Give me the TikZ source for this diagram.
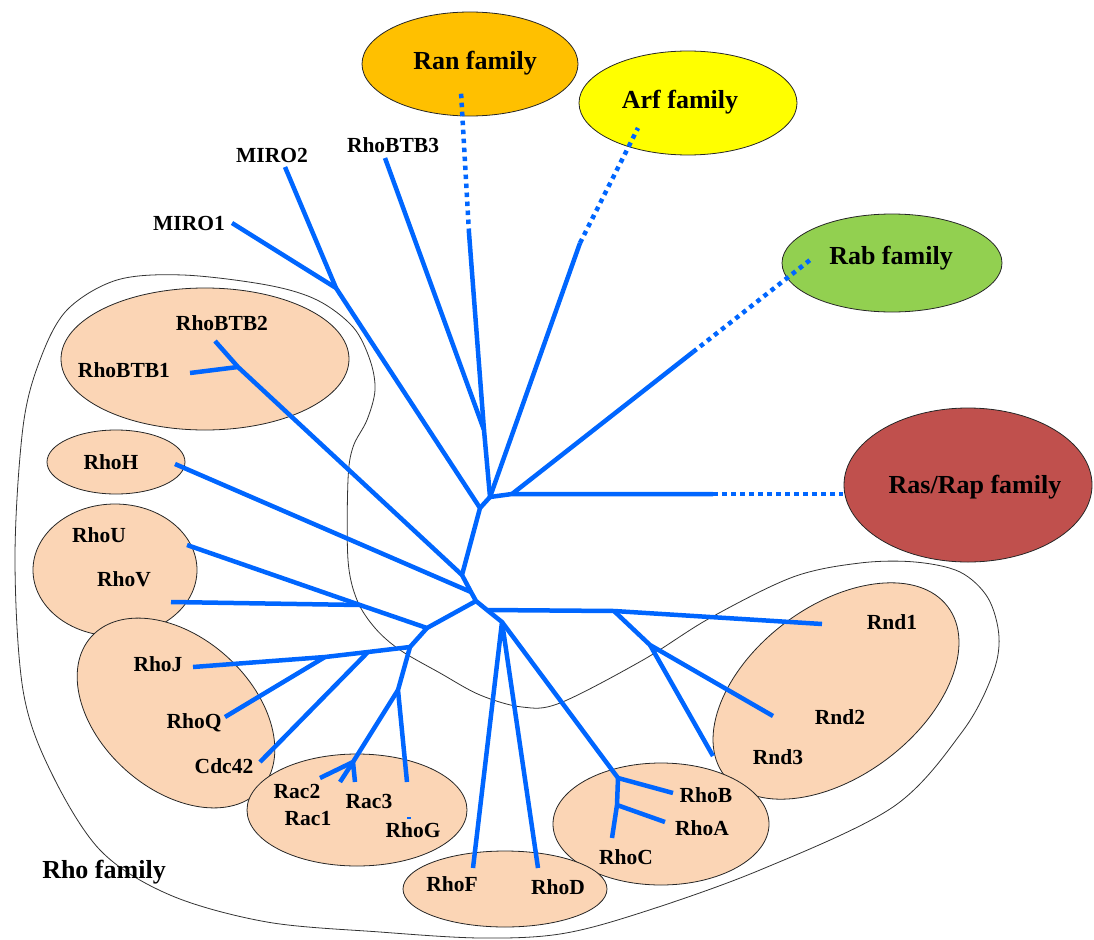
\documentclass[tikz,border=0pt]{standalone}
\usepackage{fontspec}
\setmainfont{Liberation Serif}
\definecolor{treeblue}{RGB}{0,102,255}
\definecolor{ranc}{RGB}{255,192,0}
\definecolor{arfc}{RGB}{255,255,0}
\definecolor{rabc}{RGB}{146,208,80}
\definecolor{rasc}{RGB}{192,80,77}
\definecolor{pinkc}{RGB}{251,213,181}
\begin{document}
\begin{tikzpicture}[x=1pt,y=-1pt,
  br/.style={draw=treeblue, line width=4.5pt, line join=round},
  dotbr/.style={draw=treeblue, line width=4.5pt, dash pattern=on 4.5pt off 4.5pt},
  lab/.style={font=\fontsize{21.5}{24}\selectfont\bfseries, inner sep=0pt, text height=14pt, text depth=0pt},
  fam/.style={font=\fontsize{26}{30}\selectfont\bfseries, inner sep=0pt, text height=17pt, text depth=0pt},
  famell/.style={draw=black!85, line width=0.8pt},
  pinkell/.style={draw=black!85, fill=pinkc, line width=0.8pt},
  outl/.style={draw=black!80, line width=0.8pt}]
\useasboundingbox (0,0) rectangle (1094,939);

% family ellipses
\draw[famell, fill=ranc] (470,64) ellipse [x radius=108pt, y radius=52pt];
\draw[famell, fill=arfc] (688,103) ellipse [x radius=109pt, y radius=52pt];
\draw[famell, fill=rabc] (892,263) ellipse [x radius=110pt, y radius=49pt];
\draw[famell, fill=rasc] (968,485) ellipse [x radius=124pt, y radius=77pt];

% Rho family outline
\draw[outl] plot[smooth cycle, tension=0.55] coordinates {
 (117,280) (183,275) (267,285) (317,300) (353,327) (370,360) (375,390) (367,420)
 (353,447) (348,480) (348,560) (357,600) (375,628) (400,650) (440,673) (480,695)
 (522,707) (560,703) (643,660) (710,618) (793,577) (860,563) (915,562) (960,572)
 (988,598) (999,637) (992,676) (962,732) (893,807) (760,870) (640,913) (560,934) (480,938)
 (380,932) (267,922) (170,895) (100,850) (50,770) (23,690) (15,558) (23,427)
 (40,360) (67,310)};

% pink ellipses
\draw[pinkell] (205,359) ellipse [x radius=144pt, y radius=71pt];
\draw[pinkell] (116,462) ellipse [x radius=69pt, y radius=32pt];
\draw[pinkell] (115,570) ellipse [x radius=82pt, y radius=66pt];
\draw[pinkell, rotate around={-42:(176,713)}] (176,713) ellipse [x radius=114pt, y radius=76pt];
\draw[pinkell] (357,810) ellipse [x radius=110pt, y radius=56pt];
\draw[pinkell, rotate around={37:(836,691)}] (836,691) ellipse [x radius=140pt, y radius=85pt];
\draw[pinkell] (661,824) ellipse [x radius=108pt, y radius=61pt];
\draw[pinkell] (505,889) ellipse [x radius=102pt, y radius=38pt];

% junction coordinates
\coordinate (R1) at (480,508);
\coordinate (Jarf) at (490,497);
\coordinate (Jtop) at (484,430);
\coordinate (Jras) at (512,494);
\coordinate (Jmiro) at (336,288);
\coordinate (R2) at (462,575);
\coordinate (Jh) at (471,592);
\coordinate (R3) at (476,601);
\coordinate (Jd) at (487,610);
\coordinate (R4) at (502,622);
\coordinate (Jbtb) at (238,367);
\coordinate (Juv) at (360,605);
\coordinate (R5) at (427,628);
\coordinate (Jr) at (410,647);
\coordinate (Jc) at (368,652);
\coordinate (Jq) at (325,657);
\coordinate (Jrac) at (398,690);
\coordinate (Jrac2) at (353,762);
\coordinate (Jrnd1) at (614,611);
\coordinate (Jrnd23) at (650,645);
\coordinate (Jbac) at (618,778);
\coordinate (Ja) at (617,805);
% end coordinates
\coordinate (eMIRO1) at (232,223);
\coordinate (eMIRO2) at (285,167);
\coordinate (eBTB3) at (385,158);
\coordinate (eRan) at (469,233);
\coordinate (dRan) at (461,92);
\coordinate (eArf) at (580,243);
\coordinate (dArf) at (638,128);
\coordinate (eRab) at (693,352);
\coordinate (dRab) at (810,260);
\coordinate (eRas) at (713,494);
\coordinate (dRas) at (843,494);
\coordinate (eBTB2) at (215,341);
\coordinate (eBTB1) at (190,373);
\coordinate (eH) at (175,464);
\coordinate (eU) at (187,545);
\coordinate (eV) at (171,602);
\coordinate (eJ) at (193,667);
\coordinate (eQ) at (225,717);
\coordinate (eCdc) at (260,762);
\coordinate (eRac2) at (320,778);
\coordinate (eRac1) at (340,782);
\coordinate (eRac3) at (355,782);
\coordinate (eG) at (407,782);
\coordinate (eF) at (473,868);
\coordinate (eD) at (538,868);
\coordinate (eB) at (673,793);
\coordinate (eA) at (665,822);
\coordinate (eC) at (612,838);
\coordinate (eRnd1) at (822,624);
\coordinate (eRnd2) at (773,716);
\coordinate (eRnd3) at (713,756);
\coordinate (gA) at (407,818);
\coordinate (gB) at (411,818);

% tree
\draw[br] (eMIRO1) -- (Jmiro) -- (R1) -- (R2) -- (Jh) -- (R3) -- (Jd) -- (R4) -- (Jbac) -- (Ja) -- (eC);
\draw[br] (eMIRO2) -- (Jmiro);
\draw[br] (eBTB3) -- (Jtop) -- (Jarf) -- (Jras) -- (eRas);
\draw[br] (eRan) -- (Jtop);
\draw[br] (eArf) -- (Jarf) -- (R1);
\draw[br] (eRab) -- (Jras);
\draw[br] (eBTB2) -- (Jbtb) -- (R2);
\draw[br] (eBTB1) -- (Jbtb);
\draw[br] (eH) -- (Jh);
\draw[br] (eU) -- (Juv) -- (R5) -- (R3);
\draw[br] (eV) -- (Juv);
\draw[br] (eJ) -- (Jq) -- (Jc) -- (Jr) -- (R5);
\draw[br] (eQ) -- (Jq);
\draw[br] (eCdc) -- (Jc);
\draw[br] (Jr) -- (Jrac) -- (eG);
\draw[br] (Jrac) -- (Jrac2) -- (eRac2);
\draw[br] (eRac1) -- (Jrac2) -- (eRac3);
\draw[br] (Jd) -- (Jrnd1) -- (eRnd1);
\draw[br] (Jrnd1) -- (Jrnd23) -- (eRnd2);
\draw[br] (Jrnd23) -- (eRnd3);
\draw[br] (eF) -- (R4) -- (eD);
\draw[br] (Jbac) -- (eB);
\draw[br] (Ja) -- (eA);
\draw[treeblue, line width=1.5pt] (gA) -- (gB);
% dotted links
\draw[dotbr] (eRan) -- (dRan);
\draw[dotbr] (eArf) -- (dArf);
\draw[dotbr] (eRab) -- (dRab);
\draw[dotbr] (eRas) -- (dRas);

% labels
\node[fam] (tRan) at (475,61) {Ran family};
\node[fam] (tArf) at (680,100) {Arf family};
\node[fam] (tRab) at (891,256) {Rab family};
\node[fam] (tRas) at (975,485) {Ras/Rap family};
\node[fam] (tRho) at (104,870) {Rho family};
\node[lab] (tMIRO1) at (189,223) {MIRO1};
\node[lab] (tMIRO2) at (272,155) {MIRO2};
\node[lab] (tBTB3) at (393,145) {RhoBTB3};
\node[lab] (tBTB2) at (222,323) {RhoBTB2};
\node[lab] (tBTB1) at (124,370) {RhoBTB1};
\node[lab] (tH) at (111,462) {RhoH};
\node[lab] (tU) at (99,535) {RhoU};
\node[lab] (tV) at (124,579) {RhoV};
\node[lab] (tJ) at (158,664) {RhoJ};
\node[lab] (tQ) at (194,721) {RhoQ};
\node[lab] (tCdc) at (224,766) {Cdc42};
\node[lab] (tRac2) at (297,791) {Rac2};
\node[lab] (tRac1) at (308,818) {Rac1};
\node[lab] (tRac3) at (369,801) {Rac3};
\node[lab] (tG) at (413,830) {RhoG};
\node[lab] (tF) at (452,884) {RhoF};
\node[lab] (tD) at (558,887) {RhoD};
\node[lab] (tC) at (626,857) {RhoC};
\node[lab] (tA) at (702,828) {RhoA};
\node[lab] (tB) at (706,795) {RhoB};
\node[lab] (tRnd1) at (892,622) {Rnd1};
\node[lab] (tRnd2) at (840,717) {Rnd2};
\node[lab] (tRnd3) at (778,757) {Rnd3};
\end{tikzpicture}
\end{document}
